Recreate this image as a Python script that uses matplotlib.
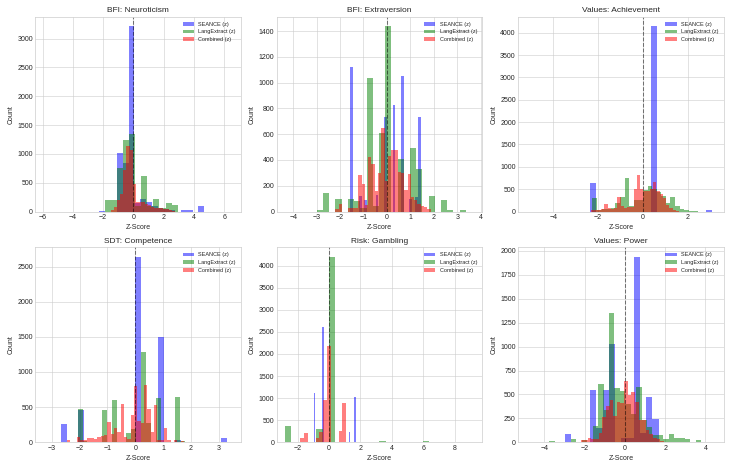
import numpy as np
import matplotlib
matplotlib.use("Agg")
import matplotlib.pyplot as plt

# ---- data: histogram counts per scorer, binned as (first edge, bin width, counts) ----
TITLES = ["BFI: Neuroticism", "BFI: Extraversion", "Values: Achievement",
          "SDT: Competence", "Risk: Gambling", "Values: Power"]
SERIES = ["SEANCE (z)", "LangExtract (z)", "Combined (z)"]
COLORS = ["blue", "green", "red"]

# BFI: Neuroticism
neuro_seance = (-2.25, 0.385, [10, 0, 0, 1020, 850, 3220, 150, 220, 170, 100, 60, 50,
                               30, 0, 20, 35, 0, 100])
neuro_lang = (-1.88, 0.40, [200, 200, 750, 1240, 1340, 100, 620, 100, 210, 60, 150, 120])
neuro_comb = (-1.46, 0.20, [20, 80, 200, 310, 720, 1130, 1070, 470, 170, 160, 170, 130,
                            110, 80, 60, 60, 70, 50, 40, 30, 10])

# BFI: Extraversion
extra_seance = (-1.56, 0.12, [1120, 0, 0, 120, 0, 90, 0, 0, 0, 130, 0, 0, 730, 0, 0,
                              830, 0, 0, 1050, 0, 0, 100, 0, 110, 730, 0])
extra_lang = (-2.99, 0.265, [10, 140, 0, 100, 0, 100, 80, 30, 1040, 40, 610, 1440, 0,
                             410, 0, 490, 330, 0, 120, 0, 90, 10, 0, 15])
extra_comb = (-2.20, 0.14, [20, 55, 0, 0, 30, 30, 25, 280, 210, 50, 420, 370, 160, 300,
                            650, 240, 430, 480, 480, 310, 300, 170, 290, 110, 90, 60,
                            40, 35, 20])

# Values: Achievement
achv_seance = (-2.37, 0.273, [640, 0, 0, 0, 0, 0, 0, 0, 0, 0, 4150, 0, 0, 0, 0, 0, 0,
                              0, 0, 30])
achv_lang = (-2.26, 0.205, [300, 40, 50, 60, 80, 200, 330, 760, 120, 260, 250, 480, 560,
                            500, 430, 340, 180, 320, 130, 50, 40, 20, 10])
achv_comb = (-2.30, 0.145, [40, 30, 40, 50, 170, 70, 50, 90, 330, 120, 90, 100, 100, 510,
                            820, 500, 470, 460, 500, 670, 470, 400, 300, 140, 80, 40, 20])

# SDT: Competence
comp_seance = (-2.665, 0.205, [260, 0, 0, 460, 0, 0, 0, 0, 0, 0, 0, 0, 0, 2640, 0, 0, 0,
                               1500, 0, 0, 30, 0, 0, 0, 0, 0, 0, 0, 60])
comp_lang = (-3.295, 0.175, [10, 0, 0, 0, 0, 0, 0, 480, 20, 0, 0, 0, 460, 0, 600, 0, 0,
                             130, 190, 0, 1280, 280, 0, 630, 0, 0, 0, 640, 20])
comp_comb = (-2.45, 0.12, [30, 0, 0, 80, 30, 30, 60, 60, 50, 80, 90, 110, 290, 120, 200,
                           150, 550, 80, 50, 390, 800, 300, 270, 810, 480, 150, 530, 30,
                           30, 210, 30, 0, 30, 0, 20, 0, 10, 10])

# Risk: Gambling
gamb_seance = (-0.97, 0.0893, [1120, 0, 0, 0, 0, 0, 2600, 0, 0, 0, 0, 0, 0, 0, 0, 0, 0,
                               0, 0, 0, 0, 0, 0, 0, 0, 240, 0, 0, 0, 1030])
gamb_lang = (-2.80, 0.40, [370, 0, 0, 0, 0, 310, 0, 4200, 0, 0, 0, 0, 0, 0, 0, 20, 0, 0,
                           0, 0, 0, 0, 40])
gamb_comb = (-1.84, 0.245, [90, 200, 0, 0, 90, 230, 950, 2180, 15, 0, 250, 890])

# Values: Power
power_seance = (-2.97, 0.31, [90, 0, 0, 0, 550, 150, 545, 1030, 0, 40, 50, 1940, 100,
                              470, 240])
power_lang = (-3.76, 0.27, [10, 0, 0, 0, 30, 0, 20, 0, 170, 610, 340, 1350, 570, 540,
                            400, 300, 580, 230, 160, 80, 80, 30, 90, 40, 40, 30, 0, 20])
power_comb = (-2.20, 0.18, [20, 20, 50, 30, 30, 100, 260, 380, 440, 280, 420, 410, 640,
                            490, 530, 420, 230, 230, 130, 90, 50, 30, 15])

PANELS = [
    [neuro_seance, neuro_lang, neuro_comb],
    [extra_seance, extra_lang, extra_comb],
    [achv_seance, achv_lang, achv_comb],
    [comp_seance, comp_lang, comp_comb],
    [gamb_seance, gamb_lang, gamb_comb],
    [power_seance, power_lang, power_comb],
]
XLIMS = [(-6.48, 7.08), (-4.70, 4.06), (-5.57, 3.59),
         (-3.59, 3.78), (-3.33, 9.75), (-5.30, 4.90)]

plt.style.use("seaborn-v0_8-whitegrid")
fig, axes = plt.subplots(2, 3, figsize=(14.62, 9.38), dpi=50)

for ax, title, series, xlim in zip(axes.flat, TITLES, PANELS, XLIMS):
    for (start, width, counts), name, color in zip(series, SERIES, COLORS):
        counts = np.asarray(counts, dtype=float)
        edges = start + width * np.arange(len(counts) + 1)
        ax.hist(edges[:-1], bins=edges, weights=counts, alpha=0.5,
                color=color, label=name)
    ax.axvline(0, color="black", linestyle="--", alpha=0.5)
    ax.set_xlim(*xlim)
    ax.set_title(title)
    ax.set_xlabel("Z-Score")
    ax.set_ylabel("Count")
    ax.legend(fontsize=8, loc="upper right")

plt.tight_layout()
fig.savefig("out.png", dpi=50)
